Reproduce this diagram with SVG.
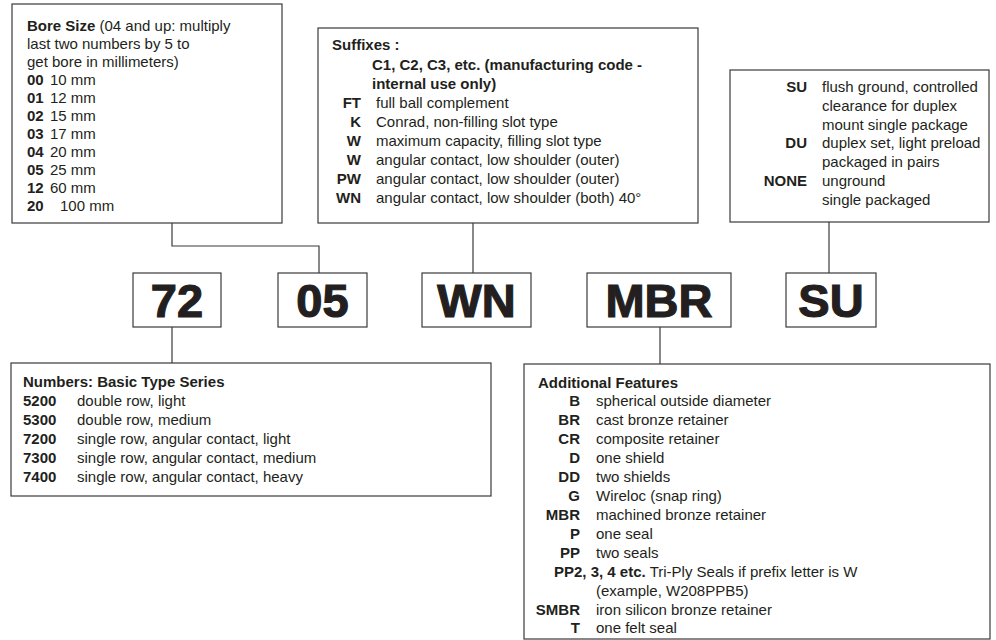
<svg xmlns="http://www.w3.org/2000/svg" width="996" height="640" viewBox="0 0 996 640">
<style>
.box{fill:#fff;stroke:#3a3a3a;stroke-width:1.2}
.t{font-family:"Liberation Sans",Arial,sans-serif;font-size:15px;fill:#231f20}
.b{font-weight:bold}
.r{text-anchor:end}
.big{font-family:"Liberation Sans",Arial,sans-serif;font-size:47px;font-weight:bold;fill:#231f20;stroke:#231f20;stroke-width:1.2;text-anchor:middle}
.con{fill:none;stroke:#3a3a3a;stroke-width:1.2}
</style>
<rect width="996" height="640" fill="#fff"/>
<g id="connectors">
<path class="con" d="M172 223V246H319V274"/>
<path class="con" d="M473 223V274"/>
<path class="con" d="M829 222V274"/>
<path class="con" d="M172 327V363"/>
<path class="con" d="M660 327V364"/>
</g>
<g id="bore">
<rect class="box" x="12" y="4" width="270" height="219"/>
<text class="t" x="27" y="31"><tspan class="b">Bore Size</tspan> (04 and up: multiply</text>
<text class="t" x="27" y="49">last two numbers by 5 to</text>
<text class="t" x="27" y="67">get bore in millimeters)</text>
<g class="t b"><text x="27" y="85">00</text><text x="27" y="103">01</text><text x="27" y="121">02</text><text x="27" y="139">03</text><text x="27" y="157">04</text><text x="27" y="175">05</text><text x="27" y="193">12</text><text x="27" y="211">20</text></g>
<g class="t"><text x="50" y="85">10 mm</text><text x="50" y="103">12 mm</text><text x="50" y="121">15 mm</text><text x="50" y="139">17 mm</text><text x="50" y="157">20 mm</text><text x="50" y="175">25 mm</text><text x="50" y="193">60 mm</text><text x="60" y="211">100 mm</text></g>
</g>
<g id="suffixes">
<rect class="box" x="318" y="28" width="380" height="195"/>
<text class="t b" x="332" y="50">Suffixes :</text>
<text class="t b" x="372" y="70">C1, C2, C3, etc. (manufacturing code -</text>
<text class="t b" x="372" y="89">internal use only)</text>
<g class="t b r"><text x="361" y="108">FT</text><text x="361" y="127">K</text><text x="361" y="146">W</text><text x="361" y="165">W</text><text x="361" y="184">PW</text><text x="361" y="203">WN</text></g>
<g class="t"><text x="376" y="108">full ball complement</text><text x="376" y="127">Conrad, non-filling slot type</text><text x="376" y="146">maximum capacity, filling slot type</text><text x="376" y="165">angular contact, low shoulder (outer)</text><text x="376" y="184">angular contact, low shoulder (outer)</text><text x="376" y="203">angular contact, low shoulder (both) 40°</text></g>
</g>
<g id="su-box">
<rect class="box" x="730" y="70" width="259" height="152"/>
<g class="t b r"><text x="807" y="92">SU</text><text x="807" y="148">DU</text><text x="807" y="186">NONE</text></g>
<g class="t"><text x="822" y="92">flush ground, controlled</text><text x="822" y="111">clearance for duplex</text><text x="822" y="130">mount single package</text><text x="822" y="148">duplex set, light preload</text><text x="822" y="167">packaged in pairs</text><text x="822" y="186">unground</text><text x="822" y="205">single packaged</text></g>
</g>
<g id="code-72"><rect class="box" x="133" y="273" width="88" height="54"/><text class="big" x="177" y="317">72</text></g>
<g id="code-05"><rect class="box" x="278" y="273" width="89" height="54"/><text class="big" x="322.5" y="317">05</text></g>
<g id="code-WN"><rect class="box" x="422" y="273" width="109" height="54"/><text class="big" x="476.5" y="317">WN</text></g>
<g id="code-MBR"><rect class="box" x="587" y="273" width="144" height="54"/><text class="big" x="659" y="317">MBR</text></g>
<g id="code-SU"><rect class="box" x="786" y="273" width="90" height="54"/><text class="big" x="831" y="317">SU</text></g>
<g id="numbers">
<rect class="box" x="11" y="363" width="480" height="133"/>
<text class="t b" x="23" y="387">Numbers: Basic Type Series</text>
<g class="t b"><text x="23" y="406">5200</text><text x="23" y="425">5300</text><text x="23" y="444">7200</text><text x="23" y="463">7300</text><text x="23" y="482">7400</text></g>
<g class="t"><text x="77" y="406">double row, light</text><text x="77" y="425">double row, medium</text><text x="77" y="444">single row, angular contact, light</text><text x="77" y="463">single row, angular contact, medium</text><text x="77" y="482">single row, angular contact, heavy</text></g>
</g>
<g id="features">
<rect class="box" x="524" y="364" width="466" height="275"/>
<text class="t b" x="538" y="388">Additional Features</text>
<g class="t b r"><text x="580" y="406">B</text><text x="580" y="425">BR</text><text x="580" y="444">CR</text><text x="580" y="463">D</text><text x="580" y="482">DD</text><text x="580" y="501">G</text><text x="580" y="520">MBR</text><text x="580" y="539">P</text><text x="580" y="558">PP</text><text x="580" y="615">SMBR</text><text x="580" y="633">T</text></g>
<g class="t"><text x="596" y="406">spherical outside diameter</text><text x="596" y="425">cast bronze retainer</text><text x="596" y="444">composite retainer</text><text x="596" y="463">one shield</text><text x="596" y="482">two shields</text><text x="596" y="501">Wireloc (snap ring)</text><text x="596" y="520">machined bronze retainer</text><text x="596" y="539">one seal</text><text x="596" y="558">two seals</text><text x="554" y="577"><tspan class="b">PP2, 3, 4 etc.</tspan> Tri-Ply Seals if prefix letter is W</text><text x="596" y="596">(example, W208PPB5)</text><text x="596" y="615">iron silicon bronze retainer</text><text x="596" y="633">one felt seal</text></g>
</g>
</svg>
